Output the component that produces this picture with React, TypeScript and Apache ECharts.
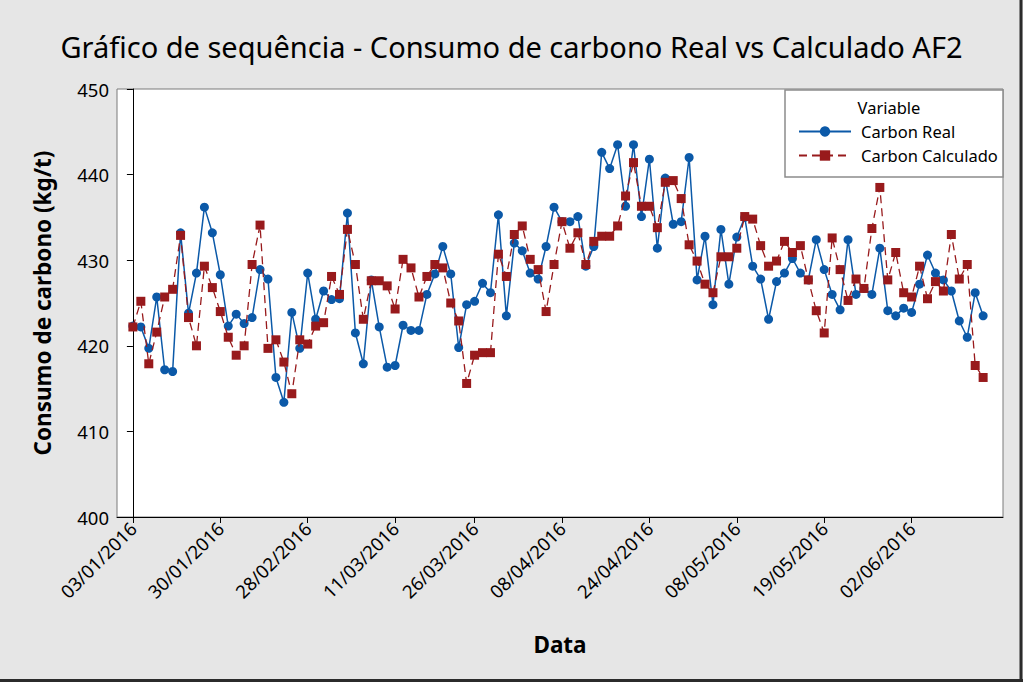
import React, { useEffect, useRef } from "react";
import * as echarts from "echarts";

const carbonReal: number[] = [
  422.3, 422.2, 419.7, 425.7, 417.2, 417.0, 433.2, 423.8, 428.5, 436.2,
  433.2, 428.3, 422.3, 423.7, 422.6, 423.3, 428.9, 427.8, 416.3, 413.4,
  423.9, 419.7, 428.5, 423.1, 426.4, 425.4, 425.5, 435.5, 421.5, 417.9,
  427.7, 422.2, 417.5, 417.7, 422.4, 421.8, 421.8, 426.0, 428.4, 431.6,
  428.4, 419.8, 424.8, 425.2, 427.3, 426.2, 435.3, 423.5, 432.0, 431.1,
  428.5, 427.8, 431.6, 436.2, 434.5, 434.5, 435.1, 429.3, 431.6, 442.6,
  440.7, 443.5, 436.3, 443.5, 435.1, 441.8, 431.4, 439.6, 434.2, 434.5,
  442.0, 427.7, 432.8, 424.8, 433.6, 427.2, 432.7, 435.0, 429.3, 427.8,
  423.1, 427.5, 428.5, 430.2, 428.5, 427.7, 432.4, 428.9, 426.0, 424.2,
  432.4, 426.0, 426.7, 426.0, 431.4, 424.1, 423.5, 424.4, 423.9, 427.2,
  430.6, 428.5, 427.7, 426.4, 422.9, 421.0, 426.2, 423.5,
];

const carbonCalculado: number[] = [
  422.2, 425.2, 417.9, 421.6, 425.7, 426.6, 432.9, 423.3, 420.0, 429.3,
  426.8, 424.0, 421.0, 418.9, 420.0, 429.5, 434.1, 419.7, 420.7, 418.1,
  414.4, 420.7, 420.2, 422.3, 422.7, 428.1, 426.0, 433.6, 429.5, 423.1,
  427.6, 427.6, 427.0, 424.3, 430.1, 429.1, 425.7, 428.1, 429.5, 429.1,
  425.0, 422.9, 415.6, 418.9, 419.2, 419.2, 430.7, 428.1, 433.0, 434.0,
  430.1, 428.9, 424.0, 429.5, 434.5, 431.4, 433.2, 429.5, 432.2, 432.8,
  432.8, 434.0, 437.5, 441.4, 436.3, 436.3, 433.8, 439.1, 439.3, 437.2,
  431.8, 429.9, 427.2, 426.2, 430.4, 430.4, 431.4, 435.1, 434.8, 431.7,
  429.3, 429.9, 432.2, 430.9, 431.7, 427.7, 424.1, 421.5, 432.6, 428.9,
  425.3, 427.8, 426.7, 433.7, 438.5, 427.7, 430.9, 426.2, 425.7, 429.3,
  425.5, 427.5, 426.4, 433.0, 427.8, 429.5, 417.7, 416.3,
];

const tickIndex: number[] = [0, 11, 22, 33, 43, 54, 65, 76, 87, 98];
const tickLabels: string[] = [
  "03/01/2016", "30/01/2016", "28/02/2016", "11/03/2016", "26/03/2016",
  "08/04/2016", "24/04/2016", "08/05/2016", "19/05/2016", "02/06/2016",
];

const seriesNames = ["Carbon Real", "Carbon Calculado"];

const FONT = "'Noto Sans', 'Open Sans', sans-serif";
const BLUE = "#0b59a8";
const RED = "#981a1c";

export default function App() {
  const ref = useRef<HTMLDivElement>(null);

  useEffect(() => {
    if (!ref.current) return;
    const chart = echarts.init(ref.current, undefined, { renderer: "svg" });
    const realData = carbonReal.map((v, i) => [i, v]);
    const calcData = carbonCalculado.map((v, i) => [i, v]);
    const labelMap: Record<number, string> = {};
    tickIndex.forEach((t, k) => (labelMap[t] = tickLabels[k]));

    chart.setOption({
      animation: false,
      backgroundColor: "#e6e6e6",
      textStyle: { fontFamily: FONT },
      title: {
        text: "Gráfico de sequência - Consumo de carbono Real vs Calculado AF2",
        left: "center",
        top: 27,
        textStyle: { fontFamily: FONT, fontSize: 29, fontWeight: "normal", color: "#000" },
      },
      grid: {
        left: 117,
        top: 89,
        right: 20,
        bottom: 165,
        show: true,
        backgroundColor: "#ffffff",
        borderColor: "#7a7a7a",
        borderWidth: 1,
      },
      legend: {
        data: seriesNames,
        orient: "vertical",
        left: 793,
        top: 118,
        z: 10,
        itemWidth: 52,
        itemHeight: 13,
        itemGap: 7,
        textStyle: { fontFamily: FONT, fontSize: 16.5, color: "#000", padding: [0, 0, 0, 5] },
      },
      xAxis: {
        type: "value",
        min: -2,
        max: 109.5,
        name: "Data",
        nameLocation: "middle",
        nameGap: 116,
        nameTextStyle: { fontFamily: FONT, fontSize: 22.5, fontWeight: "bold", color: "#000" },
        axisLine: { show: true, onZero: false, lineStyle: { color: "#000", width: 1 } },
        axisTick: { show: true, length: 6, lineStyle: { color: "#000" }, customValues: tickIndex },
        axisLabel: {
          customValues: tickIndex,
          rotate: 45,
          fontSize: 18.5,
          color: "#000",
          fontFamily: FONT,
          margin: 8,
          formatter: (v: number) => labelMap[Math.round(v)] ?? "",
        },
        splitLine: { show: false },
      },
      yAxis: {
        type: "value",
        min: 400,
        max: 450,
        interval: 10,
        name: "Consumo de carbono (kg/t)",
        nameLocation: "middle",
        nameGap: 63,
        nameTextStyle: { fontFamily: FONT, fontSize: 22.5, fontWeight: "bold", color: "#000" },
        axisLine: { show: true, lineStyle: { color: "#000", width: 1 } },
        axisTick: { show: true, length: 6, lineStyle: { color: "#000" } },
        axisLabel: { fontSize: 18.5, color: "#000", fontFamily: FONT, margin: 8 },
        splitLine: { show: false },
      },
      graphic: [
        {
          type: "rect",
          shape: { x: 785, y: 90, width: 218, height: 87 },
          style: { fill: "#ffffff", stroke: "#8c8c8c", lineWidth: 1.5 },
          z: 5,
        },
        {
          type: "text",
          x: 889,
          y: 107,
          style: {
            text: "Variable",
            fontFamily: FONT,
            fontSize: 16.5,
            fill: "#000",
            textAlign: "center",
            textVerticalAlign: "middle",
          },
          z: 6,
        },
        {
          type: "line",
          shape: { x1: 1021, y1: 0, x2: 1021, y2: 682 },
          style: { stroke: "#2b2b2b", lineWidth: 3 },
        },
        {
          type: "line",
          shape: { x1: 0, y1: 680.5, x2: 1023, y2: 680.5 },
          style: { stroke: "#2b2b2b", lineWidth: 3 },
        },
      ],
      series: [
        {
          name: seriesNames[0],
          type: "line",
          data: realData,
          symbol: "circle",
          symbolSize: 9,
          itemStyle: { color: BLUE },
          lineStyle: { color: BLUE, width: 1.5 },
          z: 3,
        },
        {
          name: seriesNames[1],
          type: "line",
          data: calcData,
          symbol: "rect",
          symbolSize: 9,
          itemStyle: { color: RED },
          lineStyle: { color: RED, width: 1.3, type: [8, 5] },
          z: 4,
        },
      ],
    });
    return () => chart.dispose();
  }, []);

  return (
    <div
      ref={ref}
      style={{ position: "fixed", left: 0, top: 0, width: 1023, height: 682 }}
    />
  );
}
